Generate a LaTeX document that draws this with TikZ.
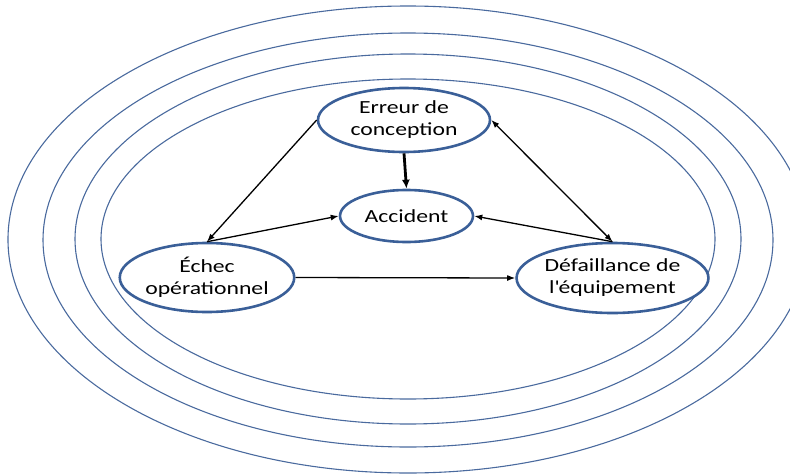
\documentclass[tikz,border=0pt]{standalone}
\usepackage{fontspec}
\setmainfont{Carlito}[FakeStretch=1.28]
\usetikzlibrary{arrows.meta,shapes.geometric}
\definecolor{ringblue}{HTML}{4A6A9E}
\definecolor{nodeblue}{HTML}{3A5F98}
\tikzset{
  ring/.style={draw=ringblue, line width=1.1pt},
  factor/.style={ellipse, draw=nodeblue, line width=2.6pt, fill=white, inner sep=0pt,
    align=center, font=\fontsize{18.5pt}{22pt}\selectfont},
  link/.style={draw=black, line width=1.3pt, -{Latex[length=8pt,width=6pt]}},
  bothlink/.style={draw=black, line width=1.3pt, {Latex[length=8pt,width=6pt]}-{Latex[length=8pt,width=6pt]}},
  mainlink/.style={draw=black, line width=2.8pt, -{Latex[length=9pt,width=8pt]}}
}
\begin{document}
\begin{tikzpicture}[x=1pt,y=-1pt]
  \useasboundingbox (0,0) rectangle (790,474);
  % concentric rings around the causes
  \begin{scope}
    \clip (0,0) rectangle (790,474);
    \draw[ring] (408,239.5) ellipse [x radius=400, y radius=233.5];
    \draw[ring] (408,240) ellipse [x radius=365, y radius=207];
    \draw[ring] (408,239) ellipse [x radius=333, y radius=185];
    \draw[ring] (408,239) ellipse [x radius=307, y radius=160];
  \end{scope}
  % causes and outcome
  \node[factor, minimum width=172pt, minimum height=64pt] (erreur) at (404,120) {Erreur de\\conception};
  \node[factor, minimum width=133pt, minimum height=52pt] (accident) at (406.5,216) {Accident};
  \node[factor, minimum width=172pt, minimum height=69pt] (echec) at (207,277.5) {Échec\\opérationnel};
  \node[factor, minimum width=171pt, minimum height=70pt] (defaillance) at (612.5,278) {Défaillance de\\l\textquotesingle équipement};
  % relations
  \draw[link] (erreur.west) -- (echec.north);
  \draw[mainlink] (erreur.south) -- (accident.north);
  \draw[link] (echec.north) -- (accident.west);
  \draw[link] (defaillance.north) -- (accident.east);
  \draw[bothlink] (erreur.east) -- (defaillance.north);
  \draw[link] (echec.east) -- (defaillance.west);
\end{tikzpicture}
\end{document}
